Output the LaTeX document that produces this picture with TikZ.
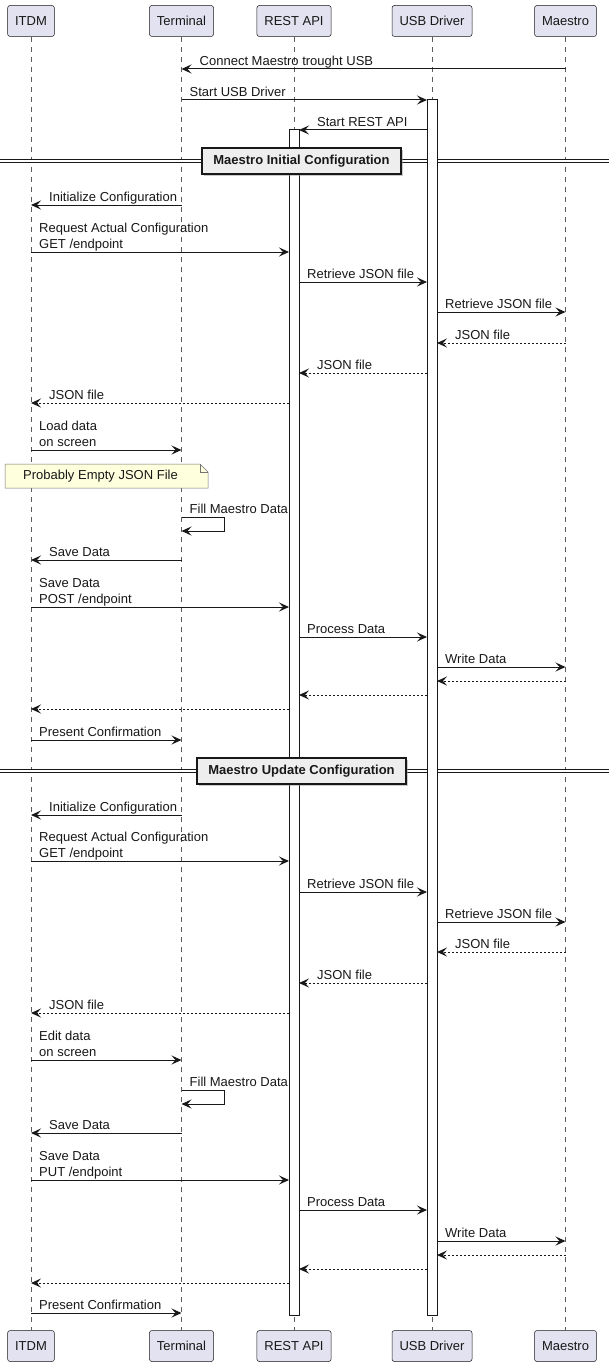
\documentclass[tikz,border=0pt]{standalone}
\usepackage{fontspec}
\setmainfont{Liberation Sans}
\usetikzlibrary{arrows.meta,shadows}
\definecolor{ink}{HTML}{181818}
\definecolor{lane}{HTML}{E2E2F0}
\definecolor{notefill}{HTML}{FEFFDD}
\definecolor{sepfill}{HTML}{EEEEEE}
\tikzset{
  every node/.style={font=\fontsize{13}{16}\selectfont,text=ink,inner sep=0pt},
  actor/.style={rounded corners=2.5pt,draw=ink,line width=.5pt,fill=lane,minimum height=31pt,inner xsep=7.5pt},
  lifeline/.style={draw=ink!70,line width=.5pt,dash pattern=on 5pt off 5pt},
  activebar/.style={draw=ink,line width=1pt,fill=white},
  call/.style={-{Stealth[length=10pt,width=9pt,inset=4pt]},draw=ink,line width=1pt},
  reply/.style={call,dash pattern=on 2pt off 2pt},
  msgtext/.style={anchor=south west,align=left},
  sepline/.style={draw=ink,line width=.9pt,double=white,double distance=2pt},
  sepbox/.style={draw=ink,line width=1.5pt,fill=sepfill,font=\bfseries\fontsize{13}{16}\selectfont,
    minimum height=26pt,inner xsep=11.5pt,drop shadow={shadow xshift=2pt,shadow yshift=-2pt,fill=black!40}},
  notebox/.style={draw=ink!60,line width=.5pt,fill=notefill},
}
% lifeline x positions and activation edges
\newcommand{\xI}{31}
\newcommand{\xT}{181.5}
\newcommand{\xR}{294}
\newcommand{\xU}{432}
\newcommand{\xM}{565.5}
\newcommand{\xRl}{289}
\newcommand{\xRr}{299}
\newcommand{\xUl}{427}
\newcommand{\xUr}{437}
\newcommand{\callmsg}[6]{% name, style, from x, to x, y, label
  \coordinate (#1-a) at (#3,#5);
  \coordinate (#1-b) at (#4,#5);
  \draw[#2] (#1-a) -- (#1-b);
  \node[msgtext] (#1-t) at ({ifthenelse(#3<#4,#3+8,#4+18)},#5+1.5) {#6\strut};}
\newcommand{\replymsg}[4]{% name, from x, to x, y
  \coordinate (#1-a) at (#2,#4);
  \coordinate (#1-b) at (#3,#4);
  \draw[reply] (#1-a) -- (#1-b);}
\newcommand{\selfmsg}[3]{% name, y, label
  \coordinate (#1-a) at (\xT,#2);
  \coordinate (#1-b) at (224,#2);
  \coordinate (#1-c) at (224,#2+14);
  \coordinate (#1-d) at (\xT,#2+14);
  \draw[call] (#1-a) -- (#1-b) -- (#1-c) -- (#1-d);
  \node[msgtext] (#1-t) at (\xT+8,#2+1.5) {#3\strut};}
\newcommand{\sepmark}[2]{% name, y
  \coordinate (#1-w) at (0,#2);
  \coordinate (#1-e) at (609,#2);
  \draw[sepline] (#1-w) -- (#1-e);}

\begin{document}
\begin{tikzpicture}[x=1pt,y=-1pt]
\path[use as bounding box] (0,0) rectangle (609,1367);
\fill[white] (0,0) rectangle (609,1367);
% participants, top and bottom
\node[actor] (itdm) at (\xI,21) {ITDM};
\node[actor] (term) at (\xT,21) {Terminal};
\node[actor] (rest) at (\xR,21) {REST API};
\node[actor] (usb) at (\xU,21) {USB Driver};
\node[actor] (maes) at (\xM,21) {Maestro};
\node[actor] (itdmB) at (\xI,1346) {ITDM};
\node[actor] (termB) at (\xT,1346) {Terminal};
\node[actor] (restB) at (\xR,1346) {REST API};
\node[actor] (usbB) at (\xU,1346) {USB Driver};
\node[actor] (maesB) at (\xM,1346) {Maestro};
\foreach \p in {itdm,term,rest,usb,maes}
  \draw[lifeline] (\p.south) -- (\p B.north);
% section separators go under the activation bars
\sepmark{sep1}{161}
\sepmark{sep2}{771}
\draw[activebar] (\xRl,130) rectangle (\xRr,1315);
\draw[activebar] (\xUl,100) rectangle (\xUr,1315);
\node[sepbox] (sep1-box) at (301.5,161) {Maestro Initial Configuration};
\node[sepbox] (sep2-box) at (301.5,771) {Maestro Update Configuration};
% start-up
\callmsg{m1}{call}{\xM}{\xT}{69}{Connect Maestro trought USB}
\callmsg{m2}{call}{\xT}{\xUl}{100}{Start USB Driver}
\callmsg{m3}{call}{\xUl}{\xRr}{130}{Start REST API}
% initial configuration
\callmsg{m4}{call}{\xT}{\xI}{205}{Initialize Configuration}
\callmsg{m5}{call}{\xI}{\xRl}{252}{Request Actual Configuration\\GET /endpoint}
\callmsg{m6}{call}{\xRr}{\xUl}{282}{Retrieve JSON file}
\callmsg{m7}{call}{\xUr}{\xM}{312}{Retrieve JSON file}
\callmsg{m8}{reply}{\xM}{\xUr}{343}{JSON file}
\callmsg{m9}{reply}{\xUl}{\xRr}{373}{JSON file}
\callmsg{m10}{reply}{\xRl}{\xI}{403}{JSON file}
\callmsg{m11}{call}{\xI}{\xT}{450}{Load data\\on screen}
\draw[notebox] (5,464) -- (200,464) -- (208,472) -- (208,488) -- (5,488) -- cycle;
\draw[notebox,fill=none] (200,464) -- (200,472) -- (208,472);
\node[anchor=west] (note1) at (23,476.5) {Probably Empty JSON File};
\selfmsg{f1}{517}{Fill Maestro Data}
\callmsg{m12}{call}{\xT}{\xI}{560}{Save Data}
\callmsg{m13}{call}{\xI}{\xRl}{607}{Save Data\\POST /endpoint}
\callmsg{m14}{call}{\xRr}{\xUl}{637}{Process Data}
\callmsg{m15}{call}{\xUr}{\xM}{667}{Write Data}
\replymsg{m16}{\xM}{\xUr}{681}
\replymsg{m17}{\xUl}{\xRr}{695}
\replymsg{m18}{\xRl}{\xI}{709}
\callmsg{m19}{call}{\xI}{\xT}{740}{Present Confirmation}
% update configuration
\callmsg{m20}{call}{\xT}{\xI}{815}{Initialize Configuration}
\callmsg{m21}{call}{\xI}{\xRl}{861}{Request Actual Configuration\\GET /endpoint}
\callmsg{m22}{call}{\xRr}{\xUl}{892}{Retrieve JSON file}
\callmsg{m23}{call}{\xUr}{\xM}{922}{Retrieve JSON file}
\callmsg{m24}{reply}{\xM}{\xUr}{952}{JSON file}
\callmsg{m25}{reply}{\xUl}{\xRr}{983}{JSON file}
\callmsg{m26}{reply}{\xRl}{\xI}{1013}{JSON file}
\callmsg{m27}{call}{\xI}{\xT}{1060}{Edit data\\on screen}
\selfmsg{f2}{1090}{Fill Maestro Data}
\callmsg{m28}{call}{\xT}{\xI}{1133}{Save Data}
\callmsg{m29}{call}{\xI}{\xRl}{1180}{Save Data\\PUT /endpoint}
\callmsg{m30}{call}{\xRr}{\xUl}{1210}{Process Data}
\callmsg{m31}{call}{\xUr}{\xM}{1241}{Write Data}
\replymsg{m32}{\xM}{\xUr}{1255}
\replymsg{m33}{\xUl}{\xRr}{1269}
\replymsg{m34}{\xRl}{\xI}{1283}
\callmsg{m35}{call}{\xI}{\xT}{1313}{Present Confirmation}
\end{tikzpicture}
\end{document}
